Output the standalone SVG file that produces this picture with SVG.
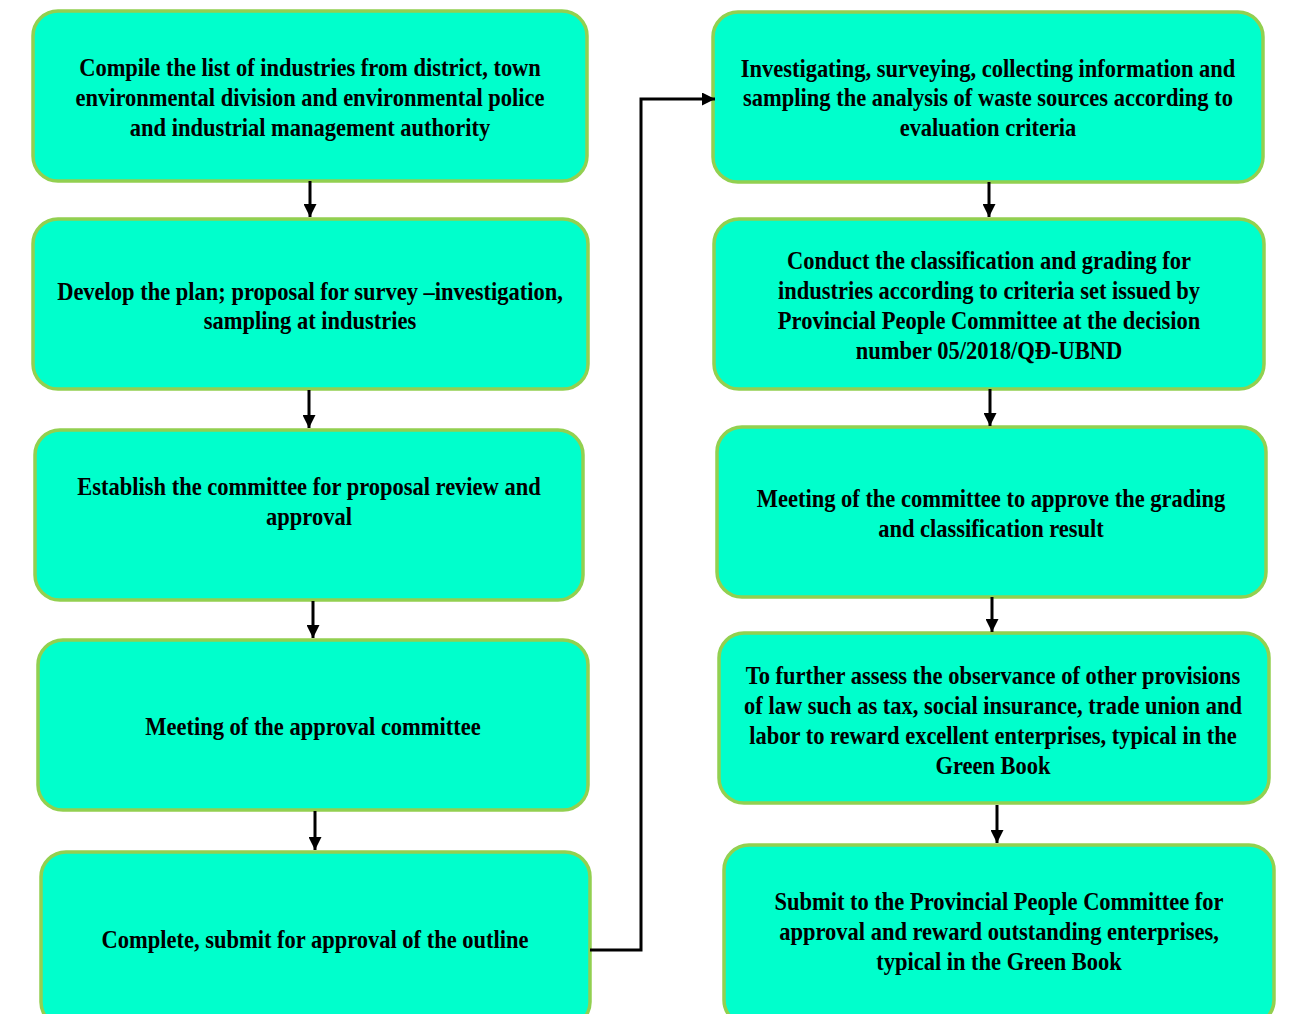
<svg xmlns="http://www.w3.org/2000/svg" width="1294" height="1014" viewBox="0 0 1294 1014">
<style>
.box{fill:#00FFCC;stroke:#92D050;stroke-width:3.5}
.t{font-family:"Liberation Serif","Times New Roman",serif;font-weight:bold;font-size:25px;fill:#000;text-anchor:middle}
.c{stroke:#000;stroke-width:3;fill:none}
</style>
<defs>
<marker id="ah" markerWidth="13" markerHeight="13" refX="13" refY="6.5" orient="auto" markerUnits="userSpaceOnUse">
<path d="M0,0 L13,6.5 L0,13 Z" fill="#000"/>
</marker>
</defs>
<rect width="1294" height="1014" fill="#fff"/>
<g id="n1"><rect class="box" x="33" y="11" width="554" height="170" rx="25"/>
<g transform="translate(310 1) scale(0.9 1)">
<text class="t" x="0" y="75">Compile the list of industries from district, town</text>
<text class="t" x="0" y="105">environmental division and environmental police</text>
<text class="t" x="0" y="135">and industrial management authority</text></g></g>
<g id="n2"><rect class="box" x="33" y="219" width="555" height="170" rx="25"/>
<g transform="translate(310 1) scale(0.9 1)">
<text class="t" x="0" y="299">Develop the plan; proposal for survey –investigation,</text>
<text class="t" x="0" y="328">sampling at industries</text></g></g>
<g id="n3"><rect class="box" x="35" y="430" width="548" height="170" rx="25"/>
<g transform="translate(309 1) scale(0.9 1)">
<text class="t" x="0" y="494">Establish the committee for proposal review and</text>
<text class="t" x="0" y="524">approval</text></g></g>
<g id="n4"><rect class="box" x="38" y="640" width="550" height="170" rx="25"/>
<g transform="translate(313 1) scale(0.9 1)">
<text class="t" x="0" y="734">Meeting of the approval committee</text></g></g>
<g id="n5"><rect class="box" x="41" y="852" width="549" height="175" rx="25"/>
<g transform="translate(315 1) scale(0.9 1)">
<text class="t" x="0" y="947">Complete, submit for approval of the outline</text></g></g>
<g id="n6"><rect class="box" x="713" y="12" width="550" height="170" rx="25"/>
<g transform="translate(988 1) scale(0.9 1)">
<text class="t" x="0" y="76">Investigating, surveying, collecting information and</text>
<text class="t" x="0" y="105">sampling the analysis of waste sources according to</text>
<text class="t" x="0" y="135">evaluation criteria</text></g></g>
<g id="n7"><rect class="box" x="714" y="219" width="550" height="170" rx="25"/>
<g transform="translate(989 1) scale(0.9 1)">
<text class="t" x="0" y="268">Conduct the classification and grading for</text>
<text class="t" x="0" y="298">industries according to criteria set issued by</text>
<text class="t" x="0" y="328">Provincial People Committee at the decision</text>
<text class="t" x="0" y="358">number 05/2018/QĐ-UBND</text></g></g>
<g id="n8"><rect class="box" x="717" y="427" width="549" height="170" rx="25"/>
<g transform="translate(991 1) scale(0.9 1)">
<text class="t" x="0" y="506">Meeting of the committee to approve the grading</text>
<text class="t" x="0" y="536">and classification result</text></g></g>
<g id="n9"><rect class="box" x="719" y="633" width="550" height="170" rx="25"/>
<g transform="translate(993 1) scale(0.9 1)">
<text class="t" x="0" y="683">To further assess the observance of other provisions</text>
<text class="t" x="0" y="713">of law such as tax, social insurance, trade union and</text>
<text class="t" x="0" y="743">labor to reward excellent enterprises, typical in the</text>
<text class="t" x="0" y="773">Green Book</text></g></g>
<g id="n10"><rect class="box" x="724" y="845" width="550" height="180" rx="25"/>
<g transform="translate(999 1) scale(0.9 1)">
<text class="t" x="0" y="909">Submit to the Provincial People Committee for</text>
<text class="t" x="0" y="939">approval and reward outstanding enterprises,</text>
<text class="t" x="0" y="969">typical in the Green Book</text></g></g>
<g id="connectors">
<line class="c" x1="310" y1="181" x2="310" y2="217" marker-end="url(#ah)"/>
<line class="c" x1="309" y1="390" x2="309" y2="428" marker-end="url(#ah)"/>
<line class="c" x1="313" y1="601" x2="313" y2="638" marker-end="url(#ah)"/>
<line class="c" x1="315" y1="811" x2="315" y2="850" marker-end="url(#ah)"/>
<polyline class="c" points="590,950 641,950 641,99 715,99" marker-end="url(#ah)"/>
<line class="c" x1="989" y1="182" x2="989" y2="217" marker-end="url(#ah)"/>
<line class="c" x1="990" y1="389" x2="990" y2="426" marker-end="url(#ah)"/>
<line class="c" x1="992" y1="597" x2="992" y2="632" marker-end="url(#ah)"/>
<line class="c" x1="997" y1="805" x2="997" y2="843" marker-end="url(#ah)"/>
</g>
</svg>
